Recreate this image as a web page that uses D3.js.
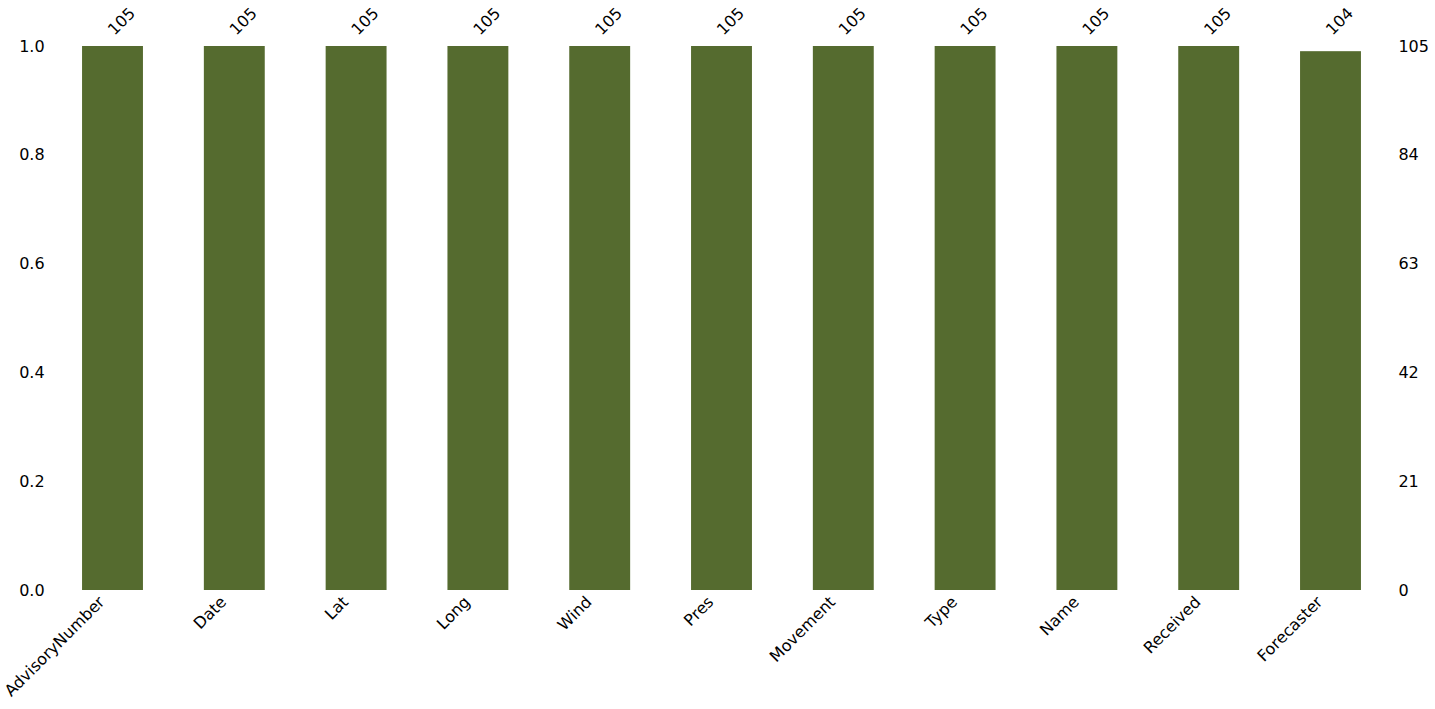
<!DOCTYPE html>
<html><head><meta charset="utf-8">
<script src="https://cdn.jsdelivr.net/npm/d3@7"></script>
<style>body{margin:0;background:#fff}text{font-family:"DejaVu Sans",sans-serif;fill:#000}</style>
</head><body>
<svg id="c" width="1435" height="709"></svg>
<script>
const categories = ["AdvisoryNumber","Date","Lat","Long","Wind","Pres","Movement","Type","Name","Received","Forecaster"];
const counts = [105,105,105,105,105,105,105,105,105,105,104];
const totalRows = 105;
const leftTicks = [0.0,0.2,0.4,0.6,0.8,1.0];
const rightTicks = [0,21,42,63,84,105];

const svg = d3.select("#c");
const fs = 16;
const x = d3.scaleBand().domain(categories).range([51.6,1391.4]).paddingInner(0.5).paddingOuter(0.25);
const y = d3.scaleLinear().domain([0,1]).range([590,46]);
const yR = d3.scaleLinear().domain([0,totalRows]).range([590,46]);

svg.append("g").selectAll("rect").data(categories).join("rect")
  .attr("x", d=>x(d)).attr("width", x.bandwidth())
  .attr("y", (d,i)=>y(counts[i]/totalRows))
  .attr("height", (d,i)=>y(0)-y(counts[i]/totalRows))
  .attr("fill","#556b2f");

// left axis
const gl = svg.append("g").attr("transform","translate(51.6,0)")
  .call(d3.axisLeft(y).tickValues(leftTicks).tickFormat(d3.format(".1f")).tickSize(0).tickPadding(7));
gl.select(".domain").remove();
gl.selectAll("text").style("font-size",fs+"px").style("font-family","DejaVu Sans");

// right axis
const gr = svg.append("g").attr("transform","translate(1391.4,0)")
  .call(d3.axisRight(yR).tickValues(rightTicks).tickSize(0).tickPadding(7));
gr.select(".domain").remove();
gr.selectAll("text").style("font-size",fs+"px").style("font-family","DejaVu Sans");

// bottom labels
svg.append("g").selectAll("text").data(categories).join("text")
  .attr("transform", d=>`translate(${x(d)+x.bandwidth()/2-7},${603}) rotate(-45)`)
  .attr("text-anchor","end").style("font-size",fs+"px")
  .text(d=>d);

// top labels
svg.append("g").selectAll("text").data(categories).join("text")
  .attr("transform", d=>`translate(${x(d)+x.bandwidth()/2+2},${36}) rotate(-45)`)
  .attr("text-anchor","start").style("font-size",fs+"px")
  .text((d,i)=>counts[i]);
</script>
</body></html>
